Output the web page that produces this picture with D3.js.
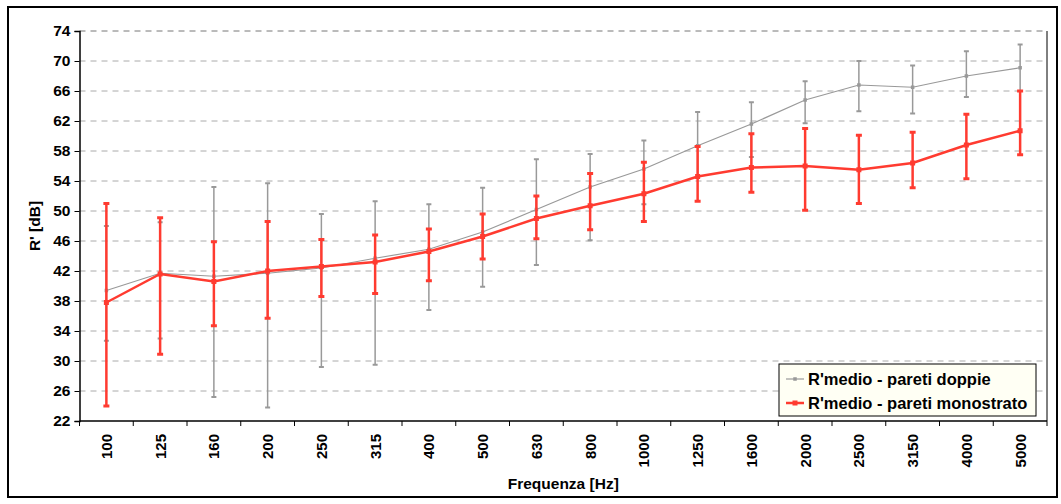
<!DOCTYPE html>
<html>
<head>
<meta charset="utf-8">
<script src="https://cdn.jsdelivr.net/npm/d3@7"></script>
<style>
  body { margin: 0; background: #fff; }
  text { font-family: Arial, "Liberation Sans", sans-serif; font-weight: bold; }
</style>
</head>
<body>
<div id="chart"></div>
<script>
// frequency bands (categories)
var frequencies = ["100","125","160","200","250","315","400","500","630","800","1000","1250","1600","2000","2500","3150","4000","5000"];

// R'medio - pareti doppie (mean, upper, lower)
var doppieMean  = [39.4, 41.7, 41.3, 41.7, 42.4, 43.7, 44.9, 47.2, 50.2, 53.2, 55.6, 58.7, 61.6, 64.8, 66.8, 66.5, 68.0, 69.1];
var doppieUpper = [48.0, 48.5, 53.2, 53.7, 49.6, 51.3, 50.9, 53.1, 56.9, 57.6, 59.4, 63.2, 64.5, 67.3, 70.0, 69.4, 71.3, 72.2];
var doppieLower = [32.7, 33.0, 25.2, 23.8, 29.2, 29.5, 36.8, 39.9, 42.8, 46.1, 50.9, 54.5, 57.2, 61.7, 63.3, 63.0, 65.2, 66.0];

// R'medio - pareti monostrato (mean, upper, lower)
var monoMean  = [37.8, 41.6, 40.6, 42.0, 42.6, 43.2, 44.6, 46.6, 49.0, 50.7, 52.3, 54.6, 55.8, 56.0, 55.5, 56.4, 58.8, 60.7];
var monoUpper = [51.0, 49.1, 45.9, 48.6, 46.2, 46.8, 47.6, 49.6, 52.0, 55.0, 56.5, 58.6, 60.3, 61.0, 60.1, 60.5, 62.9, 66.0];
var monoLower = [24.0, 30.9, 34.7, 35.7, 38.6, 39.0, 40.7, 43.6, 46.3, 47.5, 48.6, 51.3, 52.5, 50.1, 51.0, 53.1, 54.3, 57.5];

var yTicks = [22, 26, 30, 34, 38, 42, 46, 50, 54, 58, 62, 66, 70, 74];

var seriesNames = ["R'medio - pareti doppie", "R'medio - pareti monostrato"];
var grayColor = "#999999";
var redColor = "#ff3b30";

var width = 1061, height = 504;
var plot = {left: 79.5, right: 1047, top: 31, bottom: 421};

var svg = d3.select("#chart").append("svg")
  .attr("width", width)
  .attr("height", height);

// outer chart border
svg.append("rect")
  .attr("x", 8).attr("y", 7)
  .attr("width", 1049).attr("height", 490)
  .attr("fill", "#fff")
  .attr("stroke", "#000")
  .attr("stroke-width", 2);

var x = d3.scaleBand()
  .domain(frequencies)
  .range([plot.left, plot.right])
  .padding(0);

var y = d3.scaleLinear()
  .domain([22, 74])
  .range([plot.bottom, plot.top]);

function cx(d, i) { return x(frequencies[i]) + x.bandwidth() / 2; }

// gridlines (dashed)
svg.append("g")
  .selectAll("line")
  .data(yTicks.slice(1))
  .enter().append("line")
    .attr("x1", plot.left).attr("x2", plot.right)
    .attr("y1", function(d) { return y(d); })
    .attr("y2", function(d) { return y(d); })
    .attr("stroke", function(d) { return d == 74 ? "#777" : "#aaaaaa"; })
    .attr("stroke-width", 1)
    .attr("stroke-dasharray", "6,5");

// right border of plot area
svg.append("line")
  .attr("x1", plot.right).attr("x2", plot.right)
  .attr("y1", plot.top).attr("y2", plot.bottom)
  .attr("stroke", "#000").attr("stroke-width", 1);

// y axis
var yAxis = svg.append("g")
  .attr("transform", "translate(" + plot.left + ",0)")
  .call(d3.axisLeft(y).tickValues(yTicks).tickSize(5).tickPadding(4));
yAxis.select(".domain").attr("stroke", "#000").attr("stroke-width", 1.5);
yAxis.selectAll("text").attr("font-size", "15.5px").attr("fill", "#000")
  .style("font-family", "Arial, 'Liberation Sans', sans-serif").style("font-weight", "bold");

// x axis: ticks at category boundaries
svg.append("line")
  .attr("x1", plot.left).attr("x2", plot.right)
  .attr("y1", plot.bottom).attr("y2", plot.bottom)
  .attr("stroke", "#000").attr("stroke-width", 1.5);

svg.append("g")
  .selectAll("line")
  .data(frequencies)
  .enter().append("line")
    .attr("x1", function(d) { return x(d); })
    .attr("x2", function(d) { return x(d); })
    .attr("y1", plot.bottom).attr("y2", plot.bottom + 5)
    .attr("stroke", "#000");

svg.append("line")
  .attr("x1", plot.right).attr("x2", plot.right)
  .attr("y1", plot.bottom).attr("y2", plot.bottom + 5)
  .attr("stroke", "#000");

svg.append("g")
  .selectAll("text")
  .data(frequencies)
  .enter().append("text")
    .attr("transform", function(d) {
      return "translate(" + (x(d) + x.bandwidth() / 2 + 5.5) + "," + (plot.bottom + 13) + ") rotate(-90)";
    })
    .attr("text-anchor", "end")
    .attr("font-size", "15px")
    .text(function(d) { return d; });

// axis titles
svg.append("text")
  .attr("x", (plot.left + plot.right) / 2)
  .attr("y", 489)
  .attr("text-anchor", "middle")
  .attr("font-size", "15.5px")
  .text("Frequenza [Hz]");

svg.append("text")
  .attr("transform", "translate(40," + ((plot.top + plot.bottom) / 2) + ") rotate(-90)")
  .attr("text-anchor", "middle")
  .attr("font-size", "15.5px")
  .text("R' [dB]");

// draw one series with its error bars
function drawSeries(mean, upper, lower, color, lineW, barW, capW, markerSize) {
  var g = svg.append("g");

  g.selectAll("line.bar")
    .data(mean)
    .enter().append("line")
      .attr("class", "bar")
      .attr("x1", cx).attr("x2", cx)
      .attr("y1", function(d, i) { return y(upper[i]); })
      .attr("y2", function(d, i) { return y(lower[i]); })
      .attr("stroke", color).attr("stroke-width", barW);

  [upper, lower].forEach(function(arr) {
    g.selectAll(null)
      .data(arr)
      .enter().append("line")
        .attr("x1", function(d, i) { return cx(d, i) - capW / 2; })
        .attr("x2", function(d, i) { return cx(d, i) + capW / 2; })
        .attr("y1", function(d) { return y(d); })
        .attr("y2", function(d) { return y(d); })
        .attr("stroke", color).attr("stroke-width", barW + 0.5);
  });

  var line = d3.line()
    .x(function(d, i) { return cx(d, i); })
    .y(function(d) { return y(d); });

  g.append("path")
    .datum(mean)
    .attr("d", line)
    .attr("fill", "none")
    .attr("stroke", color)
    .attr("stroke-width", lineW);

  g.selectAll("rect.marker")
    .data(mean)
    .enter().append("rect")
      .attr("class", "marker")
      .attr("x", function(d, i) { return cx(d, i) - markerSize / 2; })
      .attr("y", function(d) { return y(d) - markerSize / 2; })
      .attr("width", markerSize).attr("height", markerSize)
      .attr("fill", color);
}

drawSeries(doppieMean, doppieUpper, doppieLower, grayColor, 1.2, 1.5, 5, 3.5);
drawSeries(monoMean, monoUpper, monoLower, redColor, 2.5, 2.5, 6, 5);

// legend
var legend = svg.append("g").attr("transform", "translate(779,364)");
legend.append("rect")
  .attr("width", 257).attr("height", 52)
  .attr("fill", "#fffff4")
  .attr("stroke", "#000").attr("stroke-width", 1);

var legendItems = [
  {name: seriesNames[0], color: grayColor, w: 1.2, m: 3.5},
  {name: seriesNames[1], color: redColor, w: 2.5, m: 5}
];

legendItems.forEach(function(item, i) {
  var ly = 15 + i * 24;
  legend.append("line")
    .attr("x1", 7).attr("x2", 25)
    .attr("y1", ly).attr("y2", ly)
    .attr("stroke", item.color).attr("stroke-width", item.w);
  legend.append("rect")
    .attr("x", 16 - item.m / 2).attr("y", ly - item.m / 2)
    .attr("width", item.m).attr("height", item.m)
    .attr("fill", item.color);
  legend.append("text")
    .attr("x", 29).attr("y", ly + 6)
    .attr("font-size", "16.5px")
    .text(item.name);
});
</script>
</body>
</html>
